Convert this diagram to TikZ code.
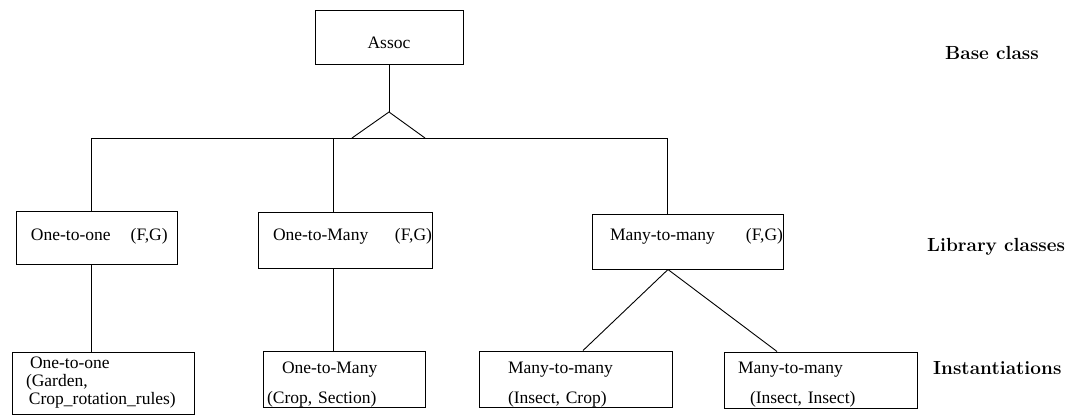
\documentclass[tikz,border=0pt]{standalone}
\usepackage{fontspec}
\newfontfamily\boxfont{Liberation Serif}
\begin{document}
\begin{tikzpicture}[x=1pt,y=-1pt,
  classbox/.style={draw, line width=1pt, inner sep=0pt, align=left,
    font=\boxfont\fontsize{17.5}{18}\selectfont},
  link/.style={line width=0.9pt},
  tier/.style={anchor=west, inner sep=0pt, font=\bfseries\fontsize{19}{22}\selectfont}]
\useasboundingbox (0,0) rectangle (1079,416);

% base class
\node[classbox, text width=148pt, minimum height=54pt, align=center,
      text height=26.6pt, text depth=4pt] (assoc) at (389,37) {Assoc};

% library classes
\node[classbox, text width=161pt, minimum height=53pt,
      text height=12pt, text depth=7pt] (lib1) at (96.5,237.5)
  {\hspace*{15pt}One-to-one\hspace{20pt}(F,G)};
\node[classbox, text width=174pt, minimum height=56pt,
      text height=12pt, text depth=12pt] (lib2) at (345,240)
  {\hspace*{15pt}One-to-Many\hfill(F,G)};
\node[classbox, text width=191pt, minimum height=55pt,
      text height=12pt, text depth=15pt] (lib3) at (687.5,241.5)
  {\hspace*{18pt}Many-to-many\hfill(F,G)};

% instantiations
\node[classbox, text width=182pt, minimum height=62pt] (inst1) at (103,383)
  {\hspace*{18pt}One-to-one\\\hspace*{14pt}(Garden,\\\hspace*{17pt}Crop\_rotation\_rules)};
\node[classbox, text width=162pt, minimum height=56pt, text height=22pt] (inst2) at (344,379)
  {\hspace*{19pt}One-to-Many\\[12pt]\hspace*{4pt}(Crop, Section)};
\node[classbox, text width=193pt, minimum height=56pt, text height=22pt] (inst3) at (575.5,379)
  {\hspace*{29pt}Many-to-many\\[12pt]\hspace*{29pt}(Insect, Crop)};
\node[classbox, text width=193pt, minimum height=56pt, text height=21pt] (inst4) at (820.5,380)
  {\hspace*{14pt}Many-to-many\\[12pt]\hspace*{26pt}(Insect, Insect)};

% tier labels
\node[tier] (tbase) at (945,53) {Base class};
\node[tier] (tlib) at (927,247) {Library classes};
\node[tier] (tinst) at (933,368) {Instantiations};

% inheritance triangle and bus
\coordinate (apex) at (389,112);
\coordinate (triL) at (352,138);
\coordinate (triR) at (425,138);
\coordinate (busL) at (91,138);
\coordinate (busM) at (333,138);
\coordinate (busR) at (667,138);

\draw[link] (assoc.south) -- (apex);
\draw[link] (triL) -- (apex) -- (triR);
\draw[link] (lib1.north -| busL) -- (busL) -- (busR) -- (lib3.north -| busR);
\draw[link] (busM) -- (lib2.north -| busM);

% library classes to instantiations
\draw[link] (lib1.south -| busL) -- (inst1.north -| busL);
\draw[link] (lib2.south -| busM) -- (inst2.north -| busM);
\draw[link] ([xshift=-19.5pt]lib3.south) -- ([xshift=7.5pt]inst3.north);
\draw[link] ([xshift=-19.5pt]lib3.south) -- ([xshift=-43.5pt]inst4.north);
\end{tikzpicture}
\end{document}
